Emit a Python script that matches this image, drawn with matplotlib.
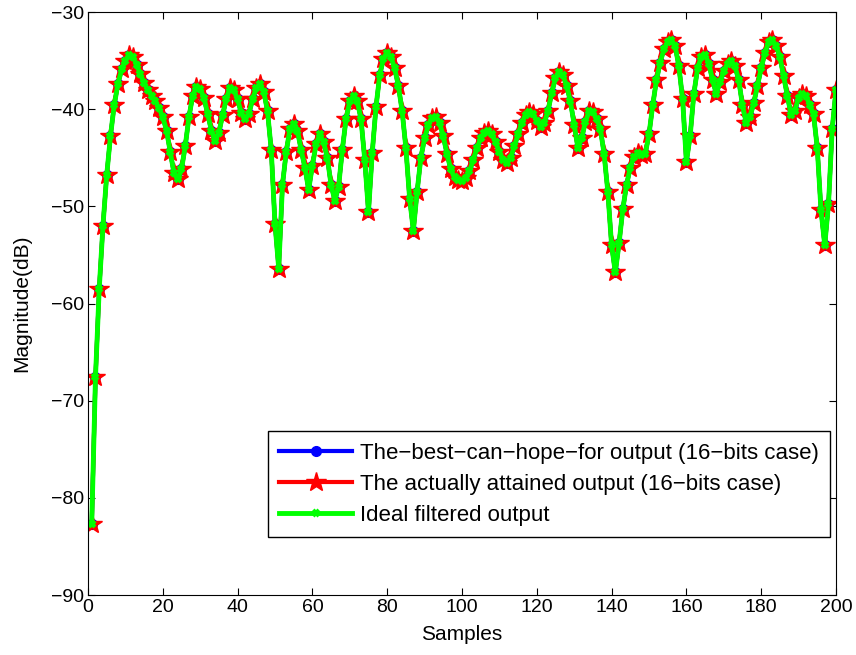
import matplotlib
matplotlib.use('Agg')
import matplotlib.pyplot as plt

plt.rcParams['font.family'] = ['Liberation Sans', 'DejaVu Sans']

# samples 1..200, magnitude in dB
samples = list(range(1, 201))
mag = [
    -82.7, -67.6, -58.5, -52.0, -46.8, -42.8, -39.6, -37.4, -35.9, -35.0,
    -34.4, -34.6, -35.4, -36.4, -37.3, -38.0, -38.6, -39.2, -39.9, -40.8,
    -42.2, -44.4, -46.6, -47.2, -46.2, -43.8, -40.8, -38.6, -37.7, -37.9,
    -38.8, -40.5, -42.2, -43.3, -42.4, -40.6, -38.9, -37.8, -38.0, -39.0,
    -40.4, -41.0, -40.5, -39.0, -37.8, -37.4, -38.2, -40.2, -44.2, -51.8,
    -56.4, -47.8, -44.4, -42.0, -41.5, -42.2, -44.2, -46.0, -48.3, -45.8,
    -43.6, -42.6, -43.4, -45.0, -47.8, -49.4, -48.0, -44.2, -41.0, -39.2,
    -38.6, -39.2, -41.0, -45.2, -50.6, -44.5, -39.8, -36.5, -34.8, -34.2,
    -34.6, -35.8, -37.6, -40.2, -44.0, -49.2, -52.5, -48.5, -45.0, -43.0,
    -41.6, -40.9, -40.8, -41.4, -42.8, -44.6, -46.2, -47.0, -47.3, -47.4,
    -47.1, -46.4, -45.2, -44.0, -43.0, -42.4, -42.2, -42.6, -43.4, -44.4,
    -45.2, -45.5, -45.0, -43.8, -42.6, -41.4, -40.6, -40.3, -40.5, -41.2,
    -41.8, -41.4, -40.2, -38.3, -36.8, -36.2, -36.5, -37.6, -39.2, -41.6,
    -44.0, -43.0, -41.3, -40.2, -40.3, -41.0, -42.0, -44.6, -48.5, -54.0,
    -56.8, -53.8, -50.3, -47.8, -46.0, -44.9, -44.5, -44.7, -44.6, -42.6,
    -39.6, -37.0, -35.2, -33.8, -33.1, -32.9, -33.5, -35.6, -39.0, -45.4,
    -42.8, -38.4, -35.8, -34.6, -34.4, -35.3, -37.0, -38.4, -37.2, -36.1,
    -35.3, -35.0, -35.6, -37.0, -39.6, -41.4, -40.8, -39.4, -37.6, -35.8,
    -34.2, -33.1, -32.9, -33.5, -34.6, -36.6, -38.6, -40.6, -40.2, -38.8,
    -38.4, -38.6, -39.6, -40.5, -44.0, -50.4, -54.0, -49.8, -42.0, -38.0,
]

best = mag
attained = mag
ideal = mag

labels = ['The\u2212best\u2212can\u2212hope\u2212for output (16\u2212bits case)',
          'The actually attained output (16\u2212bits case)',
          'Ideal filtered output']

fig = plt.figure(figsize=(8.56, 6.55), dpi=100)
ax = fig.add_axes([0.1028, 0.0916, 0.8738, 0.890])

ax.plot(samples, best, color='blue', lw=3, marker='o', ms=7, label=labels[0])
ax.plot(samples, attained, color='red', lw=3, marker='*', ms=15, mew=1,
        label=labels[1])
ax.plot(samples, ideal, color='#00ff00', lw=3.5, marker='x', ms=5, mew=3,
        label=labels[2])

ax.set_xlim(0, 200)
ax.set_ylim(-90, -30)
ax.set_xticks(range(0, 201, 20))
ax.set_yticks(range(-90, -29, 10))
ax.tick_params(direction='in', top=True, right=True, labelsize=14, length=5,
               pad=3)
ax.set_xlabel('Samples', fontsize=15, labelpad=6)
ax.set_ylabel('Magnitude(dB)', fontsize=15, labelpad=14)

leg = ax.legend(loc='lower right', bbox_to_anchor=(0.992, 0.10), fontsize=16,
                fancybox=False, edgecolor='black', framealpha=1,
                handlelength=3.3, handletextpad=0.35, borderpad=0.5,
                borderaxespad=0, labelspacing=0.45)
leg.get_frame().set_linewidth(1)

fig.savefig('out.png', dpi=100)
